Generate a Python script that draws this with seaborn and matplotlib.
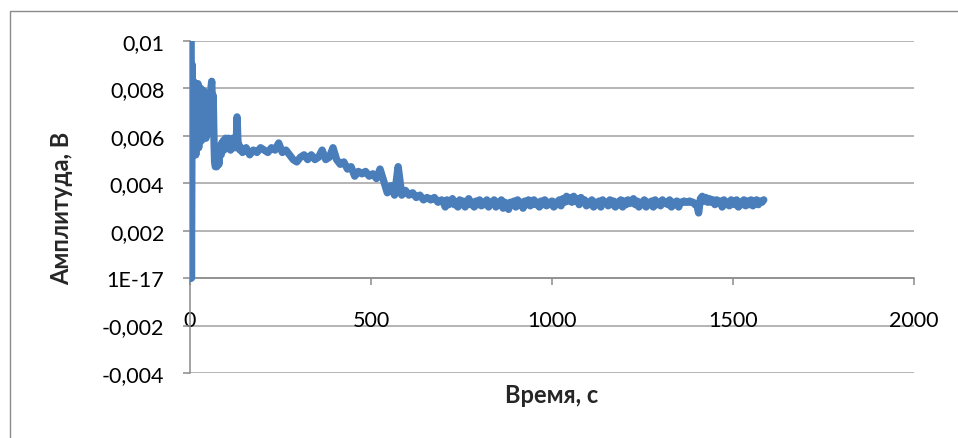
import numpy as np
import pandas as pd
import matplotlib
matplotlib.use("Agg")
import matplotlib.pyplot as plt
import seaborn as sns
from matplotlib.patches import Rectangle

# ---- data ----
time_start_s = [0, 2, 4, 6, 8, 10, 12, 14, 16, 18, 20, 22, 24, 26, 28, 30, 32, 34, 36, 38,
                40, 42, 44, 46, 48, 50, 52, 54, 56, 58, 60, 62, 64, 66, 68, 70, 72, 74, 76, 78,
                80, 82, 84, 86, 88, 90, 92, 94, 96, 98, 100, 102, 104, 106, 108, 110, 112, 114,
                116, 118, 120, 122, 124, 126, 128, 130, 132, 134, 136, 138, 140]
amp_start_mV = [0.0, 10.0, 0.0, 9.0, 6.0, 8.3, 5.6, 8.0, 5.2, 7.8, 5.8, 8.2, 5.5, 7.6, 6.2, 8.0,
                5.8, 7.4, 6.0, 7.9, 6.3, 7.2, 5.9, 7.0, 6.4, 7.6, 6.1, 7.3, 6.6, 8.0, 8.3, 7.2,
                7.7, 6.0, 4.9, 4.7, 4.8, 4.7, 4.9, 5.0, 4.8, 5.3, 5.6, 5.2, 5.7, 5.5, 5.8, 5.4,
                5.7, 5.9, 5.6, 5.8, 5.5, 5.9, 5.6, 5.7, 5.4, 5.8, 5.6, 5.9, 5.5, 5.7, 5.6, 5.5,
                5.8, 6.8, 5.9, 5.5, 5.6, 5.4, 5.5]

time_mid_s = [145, 155, 165, 175, 185, 195, 205, 215, 225, 235, 245, 255, 265, 275, 285, 295,
              305, 315, 325, 335, 345, 355, 365, 375, 385, 395, 405,
              415, 425, 435, 445, 455, 465, 475, 485, 495, 505, 515, 525,
              535, 545, 555, 565, 575, 585,
              595, 605, 615, 625, 635, 645, 655, 665, 675, 685, 695]
amp_mid_mV = [5.3, 5.5, 5.2, 5.4, 5.3, 5.5, 5.4, 5.3, 5.5, 5.4, 5.7, 5.3, 5.4, 5.2, 5.0, 4.9,
              5.1, 5.2, 5.0, 5.2, 5.0, 5.1, 5.4, 5.0, 5.1, 5.5, 5.0,
              4.8, 4.9, 4.6, 4.7, 4.3, 4.5, 4.4, 4.5, 4.3, 4.4, 4.2, 4.6,
              4.1, 3.6, 3.9, 3.5, 4.7, 3.5,
              3.7, 3.5, 3.6, 3.4, 3.5, 3.3, 3.4, 3.3, 3.4, 3.2, 3.3]

time_flat_s = [700, 705, 710, 715, 720, 725, 730, 735, 740, 745,
               750, 755, 760, 765, 770, 775, 780, 785, 790, 795,
               800, 805, 810, 815, 820, 825, 830, 835, 840, 845,
               850, 855, 860, 865, 870, 875, 880, 885, 890, 895,
               900, 905, 910, 915, 920, 925, 930, 935, 940, 945,
               950, 955, 960, 965, 970, 975, 980, 985, 990, 995,
               1000, 1005, 1010, 1015, 1020, 1025, 1030, 1035, 1040, 1045,
               1050, 1055, 1060, 1065, 1070, 1075, 1080, 1085, 1090, 1095,
               1100, 1105, 1110, 1115, 1120, 1125, 1130, 1135, 1140, 1145,
               1150, 1155, 1160, 1165, 1170, 1175, 1180, 1185, 1190, 1195,
               1200, 1205, 1210, 1215, 1220, 1225, 1230, 1235, 1240, 1245,
               1250, 1255, 1260, 1265, 1270, 1275, 1280, 1285, 1290, 1295,
               1300, 1305, 1310, 1315, 1320, 1325, 1330, 1335, 1340, 1345,
               1350, 1355, 1360, 1365, 1370, 1375, 1380, 1385, 1390, 1395,
               1400, 1405, 1410, 1415, 1420, 1425, 1430, 1435, 1440, 1445,
               1450, 1455, 1460, 1465, 1470, 1475, 1480, 1485, 1490, 1495,
               1500, 1505, 1510, 1515, 1520, 1525, 1530, 1535, 1540, 1545,
               1550, 1555, 1560, 1565, 1570, 1575, 1580, 1585]
amp_flat_mV = [3.2, 3.0, 3.3, 3.1, 3.2, 3.35, 3.1, 3.2, 3.0, 3.3,
               3.1, 3.25, 3.0, 3.2, 3.35, 3.1, 3.2, 3.0, 3.25, 3.1,
               3.3, 3.05, 3.2, 3.1, 3.3, 3.0, 3.2, 3.15, 3.3, 3.0,
               3.2, 3.1, 3.3, 2.95, 3.2, 3.05, 2.9, 3.2, 3.1, 3.25,
               3.0, 3.3, 3.1, 3.2, 2.95, 3.25, 3.1, 3.3, 3.05, 3.2,
               3.3, 3.1, 3.2, 3.0, 3.25, 3.1, 3.3, 3.05, 3.2, 3.1,
               3.25, 3.0, 3.2, 3.1, 3.3, 3.05, 3.35, 3.2, 3.45, 3.25,
               3.4, 3.2, 3.45, 3.25, 3.35, 3.1, 3.4, 3.2, 3.3, 3.05,
               3.2, 3.1, 3.3, 3.0, 3.2, 3.1, 3.25, 3.0, 3.3, 3.15,
               3.2, 3.05, 3.3, 3.1, 3.25, 3.0, 3.2, 3.1, 3.3, 3.0,
               3.25, 3.1, 3.3, 3.15, 3.2, 3.35, 3.1, 3.25, 3.0, 3.2,
               3.1, 3.3, 3.0, 3.2, 3.1, 3.25, 3.0, 3.3, 3.1, 3.2,
               3.05, 3.3, 3.15, 3.2, 3.1, 3.3, 3.0, 3.2, 3.1, 3.25,
               3.0, 3.2, 3.2, 3.25, 3.2, 3.2, 3.25, 3.2, 3.2, 3.1,
               3.1, 2.75, 3.35, 3.45, 3.25, 3.4, 3.2, 3.35, 3.2, 3.3,
               3.1, 3.3, 3.15, 3.25, 3.0, 3.3, 3.1, 3.2, 3.05, 3.3,
               3.2, 3.1, 3.3, 3.0, 3.2, 3.1, 3.3, 3.05, 3.25, 3.1,
               3.3, 3.05, 3.2, 3.3, 3.1, 3.25, 3.2, 3.3]

y_ticks = [-0.004, -0.002, 0.0, 0.002, 0.004, 0.006, 0.008, 0.01]
y_tick_labels = ["-0,004", "-0,002", "1E-17", "0,002", "0,004", "0,006", "0,008", "0,01"]
x_ticks = [0, 500, 1000, 1500, 2000]
x_tick_labels = ["0", "500", "1000", "1500", "2000"]

x_label = "Время, с"
y_label = "Амплитуда, В"

# ---- build table ----
all_t = list(time_start_s) + list(time_mid_s) + list(time_flat_s)
all_mV = list(amp_start_mV) + list(amp_mid_mV) + list(amp_flat_mV)
df = pd.DataFrame({"t": all_t, "amp": [v / 1000.0 for v in all_mV]})

sns.set_style("white")
fam = ["Lato", "Open Sans", "DejaVu Sans"]
plt.rcParams["font.family"] = fam

W, H = 958, 439
fig = plt.figure(figsize=(W / 100, H / 100), dpi=100)
ax = fig.add_axes([190 / W, 1 - 374 / H, (914 - 190) / W, (374 - 42) / H])

grid_c = "#a0a0a0"
axis_c = "#8a8a8a"
for yv in y_ticks:
    ax.axhline(yv, color=grid_c, lw=1.1, zorder=0)

sns.lineplot(data=df, x="t", y="amp", ax=ax, estimator=None, sort=False,
             color="#4a7ebb", linewidth=5.3, zorder=3)
for ln in ax.get_lines():
    ln.set_solid_joinstyle("round")
    ln.set_solid_capstyle("round")

ax.set_xlim(0, 2000)
ax.set_ylim(-0.004, 0.01)

for s in ["top", "right"]:
    ax.spines[s].set_visible(False)
ax.spines["bottom"].set_position(("data", 0))
ax.spines["bottom"].set_color(axis_c)
ax.spines["left"].set_color(axis_c)
ax.spines["bottom"].set_linewidth(1.1)
ax.spines["left"].set_linewidth(1.1)
ax.spines["bottom"].set_zorder(1)

ax.set_yticks(y_ticks)
ax.set_yticklabels(y_tick_labels)
ax.set_xticks(x_ticks)
ax.set_xticklabels(x_tick_labels)
ax.tick_params(axis="y", direction="out", length=5, width=1.1, color=axis_c,
               pad=13.5, labelsize=15.5, labelcolor="black", left=True)
ax.tick_params(axis="x", direction="out", length=5, width=1.1, color=axis_c,
               pad=18, labelsize=15.5, labelcolor="black", bottom=True)

ax.set_xlabel(x_label, fontsize=17, fontweight="bold", family=fam)
ax.set_ylabel(y_label, fontsize=17, fontweight="bold", family=fam)
ax.xaxis.set_label_coords(0.5, (374 - 384) / 332)
ax.yaxis.set_label_coords((73 - 190) / 724, 0.5)
ax.xaxis.label.set_va("top")

# outer chart border (extends beyond image at right and bottom)
fig.patches.append(Rectangle((10 / W, -0.05), 1.2, 1 - 12 / H + 0.05,
                             transform=fig.transFigure, fill=False,
                             edgecolor="#8a8a8a", lw=1.0))

fig.savefig("out.png", dpi=100)
